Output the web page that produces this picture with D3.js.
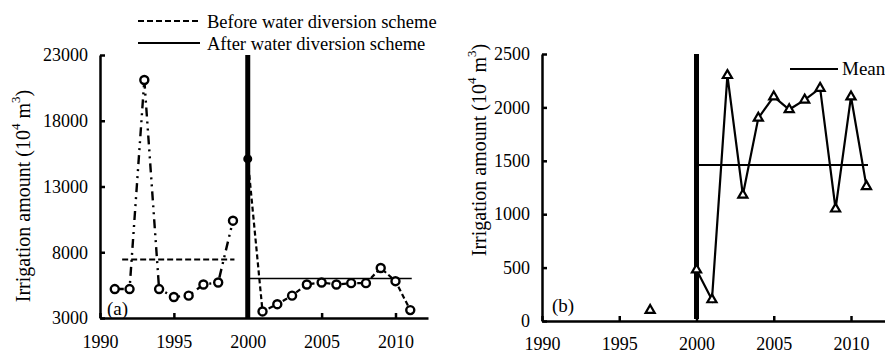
<!DOCTYPE html>
<html>
<head>
<meta charset="utf-8">
<script src="https://cdn.jsdelivr.net/npm/d3@7"></script>
<style>
  body { margin: 0; background: #fff; }
  svg text { font-family: "Liberation Serif", "Times New Roman", serif; fill: #000; }
</style>
</head>
<body>
<svg id="chart" width="885" height="351"></svg>
<script>
// Panel (a): irrigation amount, before / after the scheme
const yearsBefore = [1991, 1992, 1993, 1994, 1995, 1996, 1997, 1998, 1999];
const valuesBefore = [5200, 5200, 21100, 5200, 4600, 4700, 5550, 5700, 10400];
const year2000 = 2000;
const value2000 = 15100;
const yearsAfter = [2001, 2002, 2003, 2004, 2005, 2006, 2007, 2008, 2009, 2010, 2011];
const valuesAfter = [3500, 4050, 4700, 5550, 5700, 5550, 5650, 5650, 6800, 5800, 3600];
const meanBefore = { from: 1991.5, to: 1999.1, value: 7450 };
const meanAfter = { from: 2000.1, to: 2011.1, value: 6000 };
const ticksYA = [3000, 8000, 13000, 18000, 23000];

// Panel (b)
const yearsB = [1997, 2000, 2001, 2002, 2003, 2004, 2005, 2006, 2007, 2008, 2009, 2010, 2011];
const valuesB = [100, 480, 200, 2300, 1180, 1900, 2100, 1980, 2070, 2180, 1050, 2100, 1260];
const meanB = { from: 2000.1, to: 2011.1, value: 1460 };
const ticksYB = [0, 500, 1000, 1500, 2000, 2500];

const ticksX = [1990, 1995, 2000, 2005, 2010];

const svg = d3.select("#chart");

// ---------- panel (a) ----------
const xA = d3.scaleLinear().domain([1990, 2012.2]).range([100, 428]);
const yA = d3.scaleLinear().domain([3000, 23000]).range([318, 55]);

function drawAxes(x, y, ticksY, padX) {
  const gx = svg.append("g")
    .attr("transform", `translate(0,${y.range()[0]})`)
    .call(d3.axisBottom(x).tickValues(ticksX).tickFormat(d3.format("d"))
      .tickSizeInner(-5).tickSizeOuter(0).tickPadding(padX));
  const gy = svg.append("g")
    .attr("transform", `translate(${x.range()[0]},0)`)
    .call(d3.axisLeft(y).tickValues(ticksY).tickFormat(d3.format("d"))
      .tickSizeInner(-5).tickSizeOuter(0).tickPadding(12));
  [gx, gy].forEach(g => {
    g.select(".domain").attr("stroke", "#000").attr("stroke-width", 2.5);
    g.selectAll(".tick line").attr("stroke", "#000").attr("stroke-width", 2.5);
    g.selectAll(".tick text").attr("font-size", 18)
      .attr("font-family", "Liberation Serif").attr("fill", "#000");
  });
}

function yTitle(cx, cy, size, gap) {
  const t = svg.append("text")
    .attr("transform", `translate(${cx},${cy}) rotate(-90)`)
    .attr("text-anchor", "middle")
    .attr("dominant-baseline", "central")
    .attr("font-size", size);
  t.append("tspan").text("Irrigation amount" + gap + "(10");
  t.append("tspan").attr("font-size", size * 0.65).attr("dy", -size * 0.4).text("4");
  t.append("tspan").attr("dy", size * 0.4).text(" m");
  t.append("tspan").attr("font-size", size * 0.65).attr("dy", -size * 0.4).text("3");
  t.append("tspan").attr("dy", size * 0.4).text(")");
}

drawAxes(xA, yA, ticksYA, 17);
yTitle(23, 196, 20, " ");

// mean lines
svg.append("line")
  .attr("x1", xA(meanBefore.from)).attr("x2", xA(meanBefore.to))
  .attr("y1", yA(meanBefore.value)).attr("y2", yA(meanBefore.value))
  .attr("stroke", "#000").attr("stroke-width", 2.2).attr("stroke-dasharray", "6,3");
svg.append("line")
  .attr("x1", xA(meanAfter.from)).attr("x2", xA(meanAfter.to))
  .attr("y1", yA(meanAfter.value)).attr("y2", yA(meanAfter.value))
  .attr("stroke", "#000").attr("stroke-width", 1.6);

// series lines
const lineA = d3.line().x(d => xA(d[0])).y(d => yA(d[1]));
svg.append("path")
  .datum(d3.zip(yearsBefore, valuesBefore))
  .attr("d", lineA)
  .attr("fill", "none").attr("stroke", "#000").attr("stroke-width", 2.4)
  .attr("stroke-dasharray", "9,5,2,5,2,5");
svg.append("path")
  .datum([[year2000, value2000]].concat(d3.zip(yearsAfter, valuesAfter)))
  .attr("d", lineA)
  .attr("fill", "none").attr("stroke", "#000").attr("stroke-width", 2.2)
  .attr("stroke-dasharray", "5,3");

// thick vertical line at 2000
svg.append("line")
  .attr("x1", xA(2000)).attr("x2", xA(2000))
  .attr("y1", yA(23000)).attr("y2", yA(3000))
  .attr("stroke", "#000").attr("stroke-width", 5);

// markers
svg.append("g").selectAll("circle")
  .data(d3.zip(yearsBefore.concat(yearsAfter), valuesBefore.concat(valuesAfter)))
  .join("circle")
  .attr("cx", d => xA(d[0])).attr("cy", d => yA(d[1])).attr("r", 4)
  .attr("fill", "#fff").attr("stroke", "#000").attr("stroke-width", 2.4);
svg.append("circle")
  .attr("cx", xA(year2000)).attr("cy", yA(value2000)).attr("r", 4.5)
  .attr("fill", "#000");

// legend
svg.append("line").attr("x1", 138).attr("x2", 200).attr("y1", 21).attr("y2", 21)
  .attr("stroke", "#000").attr("stroke-width", 2.2).attr("stroke-dasharray", "6,3");
svg.append("text").attr("x", 207).attr("y", 28).attr("font-size", 18.5)
  .text("Before water diversion scheme");
svg.append("line").attr("x1", 138).attr("x2", 200).attr("y1", 43).attr("y2", 43)
  .attr("stroke", "#000").attr("stroke-width", 2.2);
svg.append("text").attr("x", 207).attr("y", 50).attr("font-size", 18.5)
  .text("After water diversion scheme");

svg.append("text").attr("x", 107).attr("y", 315).attr("font-size", 19).text("(a)");

// ---------- panel (b) ----------
const xB = d3.scaleLinear().domain([1990, 2012.2]).range([542, 885]);
const yB = d3.scaleLinear().domain([0, 2500]).range([321, 54]);

drawAxes(xB, yB, ticksYB, 16);
yTitle(479, 150, 20, "  ");

svg.append("line")
  .attr("x1", xB(meanB.from)).attr("x2", xB(meanB.to))
  .attr("y1", yB(meanB.value)).attr("y2", yB(meanB.value))
  .attr("stroke", "#000").attr("stroke-width", 2);

const lineB = d3.line().x(d => xB(d[0])).y(d => yB(d[1]));
svg.append("path")
  .datum(d3.zip(yearsB, valuesB).filter(d => d[0] >= 2000))
  .attr("d", lineB)
  .attr("fill", "none").attr("stroke", "#000").attr("stroke-width", 2.2);

svg.append("line")
  .attr("x1", xB(2000)).attr("x2", xB(2000))
  .attr("y1", yB(2500)).attr("y2", yB(0) - 2)
  .attr("stroke", "#000").attr("stroke-width", 5);

const tri = d3.symbol().type(d3.symbolTriangle).size(36);
svg.append("g").selectAll("path")
  .data(d3.zip(yearsB, valuesB))
  .join("path")
  .attr("d", tri)
  .attr("transform", d => `translate(${xB(d[0])},${yB(d[1])})`)
  .attr("fill", "#fff").attr("stroke", "#000").attr("stroke-width", 2.2);

// legend (b)
svg.append("line").attr("x1", 790).attr("x2", 838).attr("y1", 69).attr("y2", 69)
  .attr("stroke", "#000").attr("stroke-width", 2);
svg.append("text").attr("x", 842).attr("y", 75).attr("font-size", 19).text("Mean");

svg.append("text").attr("x", 552).attr("y", 312).attr("font-size", 19).text("(b)");
</script>
</body>
</html>
